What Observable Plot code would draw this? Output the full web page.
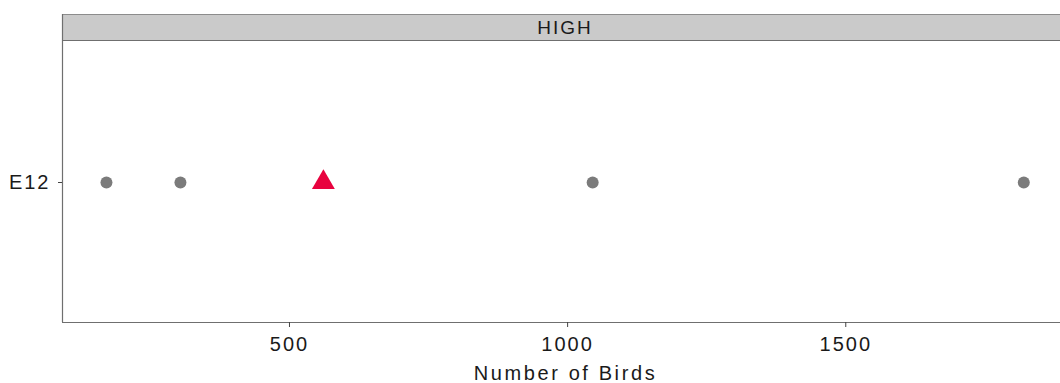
<!DOCTYPE html>
<html>
<head>
<meta charset="utf-8">
<script src="https://cdn.jsdelivr.net/npm/d3@7"></script>
<script src="https://cdn.jsdelivr.net/npm/@observablehq/plot@0.6"></script>
<style>
  html, body { margin: 0; padding: 0; background: #fff; }
  #chart { width: 1060px; height: 383px; }
</style>
</head>
<body>
<div id="chart"></div>
<script>
// ---- data ----
const panel = "HIGH";
const sites = ["E12"];
const birdCounts = [171, 304, 1045, 1820];     // grey points
const highlightCount = [561];                  // red triangle
const xTicks = [500, 1000, 1500];
const xDomain = [92, 1886];
const xLabel = "Number of Birds";

const points = birdCounts.map(v => ({site: sites[0], n: v}));
const flagged = highlightCount.map(v => ({site: sites[0], n: v}));

const FONT = "'Liberation Sans', Arial, Helvetica, sans-serif";

const stripMark = (index, scales, values, dims) => {
  const g = d3.create("svg:g");
  const L = dims.marginLeft, R = dims.width - dims.marginRight;
  const T = dims.marginTop, B = dims.height - dims.marginBottom;
  const stripTop = 14;
  g.append("rect").attr("x", L).attr("y", stripTop).attr("width", R - L).attr("height", T - stripTop)
    .attr("fill", "#cacaca");
  g.append("line").attr("x1", L).attr("x2", R).attr("y1", stripTop + 0.5).attr("y2", stripTop + 0.5)
    .attr("stroke", "#8c8c8c").attr("stroke-width", 1.2);
  g.append("line").attr("x1", L).attr("x2", R).attr("y1", T - 0.5).attr("y2", T - 0.5)
    .attr("stroke", "#6f6f6f").attr("stroke-width", 1.2);
  g.append("line").attr("x1", L + 0.5).attr("x2", L + 0.5).attr("y1", stripTop).attr("y2", B)
    .attr("stroke", "#6f6f6f").attr("stroke-width", 1.2);
  g.append("line").attr("x1", L).attr("x2", R).attr("y1", B + 0.5).attr("y2", B + 0.5)
    .attr("stroke", "#6f6f6f").attr("stroke-width", 1.2);
  g.append("text").attr("x", (L + R) / 2 + 4).attr("y", (stripTop + T) / 2)
    .attr("text-anchor", "middle").attr("dy", "0.36em")
    .attr("font-family", FONT).attr("font-size", 19).attr("class", "ls2")
    .attr("fill", "#1a1a1a").text(panel);
  return g.node();
};

const chart = Plot.plot({
  width: 1060,
  height: 383,
  marginLeft: 62,
  marginRight: 0,
  marginTop: 41,
  marginBottom: 61,
  style: {fontFamily: FONT, fontSize: "20px", color: "#1a1a1a", background: "#fff"},
  x: {domain: xDomain},
  y: {type: "point", domain: sites},
  marks: [
    stripMark,
    Plot.axisX({ticks: xTicks, tickFormat: d3.format("d"), tickSize: 5, tickPadding: 9, label: null,
      fontSize: 20, stroke: "#444"}),
    Plot.axisY({tickSize: 4, tickPadding: 8, label: null, fontSize: 20, stroke: "#444"}),
    Plot.dot(points, {x: "n", y: "site", r: 6, fill: "#7b7b7b", stroke: "none"}),
    Plot.dot(flagged, {x: "n", y: "site", symbol: "triangle", r: 8.5, fill: "#e8033f", stroke: "none"}),
    Plot.text([xLabel], {frameAnchor: "bottom", dy: 57, dx: 4, text: d => d, fontSize: 20, fill: "#1a1a1a",
      className: "axis-title"})
  ]
});

d3.select(chart).selectAll("text").attr("letter-spacing", "2px");
d3.select(chart).selectAll(".axis-title text").attr("letter-spacing", "2.6px");
document.getElementById("chart").appendChild(chart);
</script>
</body>
</html>
